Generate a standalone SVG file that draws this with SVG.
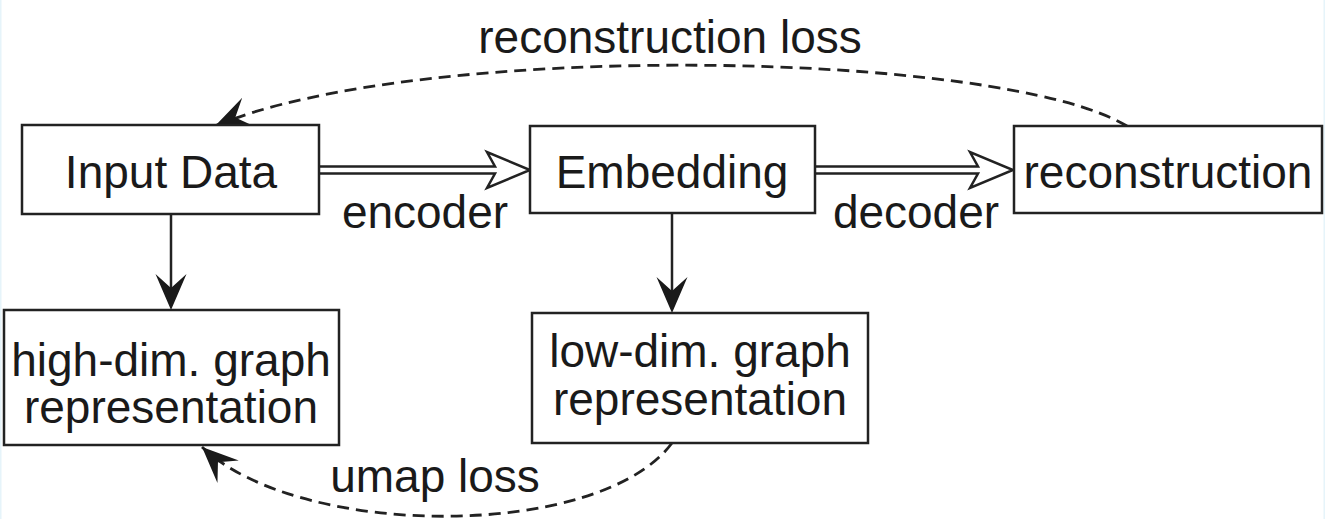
<svg xmlns="http://www.w3.org/2000/svg" width="1325" height="519" viewBox="0 0 1325 519">
<style>
.box{fill:#fff;stroke:#222;stroke-width:2.5}
.t{font-family:"Liberation Sans",Arial,sans-serif;font-size:46px;fill:#1a1a1a;text-anchor:middle}
.solid{fill:none;stroke:#222;stroke-width:2.5}
.dash{fill:none;stroke:#222;stroke-width:2.8;stroke-dasharray:12 7}
.hollow{fill:#fff;stroke:#222;stroke-width:2.5;stroke-linejoin:miter}
</style>
<defs>
<marker id="ah" markerUnits="userSpaceOnUse" markerWidth="40" markerHeight="36" viewBox="0 -18 40 36" refX="14" refY="0" orient="auto">
<path d="M36,0 L0,-15.5 L14,0 L0,15.5 Z" fill="#1a1a1a"/>
</marker>
<marker id="ahd" markerUnits="userSpaceOnUse" markerWidth="40" markerHeight="36" viewBox="0 -18 40 36" refX="36" refY="0" orient="auto">
<path d="M36,0 L0,-15.5 L14,0 L0,15.5 Z" fill="#1a1a1a"/>
</marker>
</defs>
<rect x="0" y="0" width="1325" height="519" fill="#fff"/>
<rect x="0" y="0" width="1.5" height="519" fill="#e6f4fa"/>
<rect x="1323.5" y="0" width="1.5" height="519" fill="#e6f4fa"/>

<g id="connectors">
<path class="hollow" d="M319,166.5 H495 L487,152 L530,170 L487,188 L495,173.5 H319"/>
<path class="hollow" d="M815,166.5 H978 L970,152 L1013,170 L970,188 L978,173.5 H815"/>
<path class="solid" d="M171,214 V288" marker-end="url(#ah)"/>
<path class="solid" d="M672,213 V291" marker-end="url(#ah)"/>
<path class="dash" d="M1127,126 C1000,50 420,40 215,126" marker-end="url(#ahd)"/>
<path class="dash" d="M672,443 C600,540 300,540 202,447" marker-end="url(#ahd)"/>
<text class="t" x="425" y="228">encoder</text>
<text class="t" x="916" y="228">decoder</text>
<text class="t" x="670" y="53">reconstruction loss</text>
<text class="t" x="435" y="492">umap loss</text>
</g>

<g id="input-data">
<rect class="box" x="22" y="125" width="297" height="89"/>
<text class="t" x="171" y="188">Input Data</text>
</g>
<g id="embedding">
<rect class="box" x="530" y="126" width="285" height="87"/>
<text class="t" x="672" y="188">Embedding</text>
</g>
<g id="reconstruction">
<rect class="box" x="1014" y="126" width="308" height="87"/>
<text class="t" x="1168" y="188">reconstruction</text>
</g>
<g id="high-dim">
<rect class="box" x="4" y="310" width="335" height="135"/>
<text class="t" x="171" y="376">high-dim. graph</text>
<text class="t" x="171" y="423">representation</text>
</g>
<g id="low-dim">
<rect class="box" x="532" y="313" width="336" height="130"/>
<text class="t" x="700" y="367">low-dim. graph</text>
<text class="t" x="700" y="415">representation</text>
</g>
</svg>
